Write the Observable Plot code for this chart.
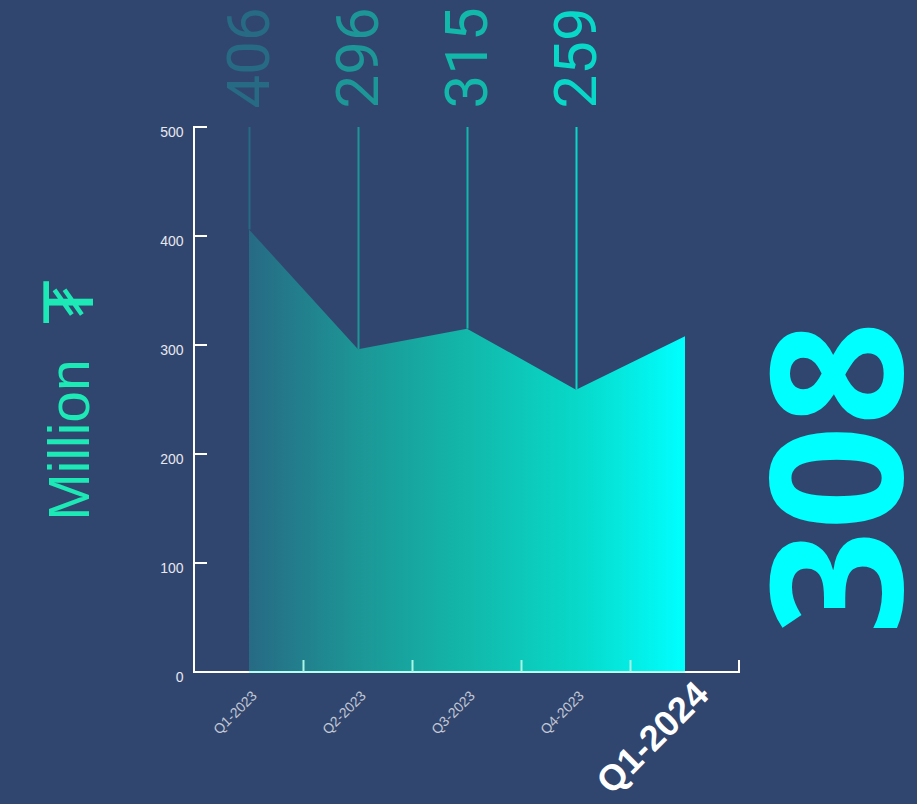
<!DOCTYPE html>
<html><head><meta charset="utf-8">
<script src="https://cdn.jsdelivr.net/npm/d3@7"></script>
<script src="https://cdn.jsdelivr.net/npm/@observablehq/plot@0.6"></script>
<style>
html,body{margin:0;padding:0;background:#31466f;overflow:hidden}
svg{display:block}
</style></head><body><div id="chart"></div>
<script>
const quarters = ["Q1-2023", "Q2-2023", "Q3-2023", "Q4-2023", "Q1-2024"];
const values = [406, 296, 315, 259, 308];
const yTicks = [0, 100, 200, 300, 400, 500];
const unitWord = ["Million"];
const currencySymbol = ["₮"];
const gradientStops = ["#276a84", "#1c9696", "#12b8aa", "#08d8c8", "#00ffff"];

const colorAt = d3.piecewise(d3.interpolateRgb, gradientStops);
const data = quarters.map((q, i) => ({quarter: q, value: values[i], t: i / (quarters.length - 1)}));
const history = data.slice(0, -1);
const latest = data[data.length - 1];
const yMax = yTicks[yTicks.length - 1];

function gradientDefs() {
  const defs = d3.create("svg:defs");
  const g = defs.append("linearGradient").attr("id", "areaGrad")
    .attr("x1", 0).attr("x2", 1).attr("y1", 0).attr("y2", 0);
  gradientStops.forEach((c, i) => g.append("stop")
    .attr("offset", i / (gradientStops.length - 1)).attr("stop-color", c));
  return defs.node();
}

function axesFrame(index, scales, values, dims) {
  const {x, y} = scales;
  const g = d3.create("svg:g").attr("stroke-width", 2).attr("fill", "none");
  const left = dims.marginLeft, right = dims.width - dims.marginRight;
  const y0 = y(0);
  g.append("line").attr("x1", left).attr("x2", left).attr("y1", y0 + 1).attr("y2", y(yMax) - 1).attr("stroke", "white");
  yTicks.forEach(v => g.append("line").attr("x1", left).attr("x2", left + 13)
    .attr("y1", y(v)).attr("y2", y(v)).attr("stroke", "white"));
  const xa = x(quarters[0]), xb = x(quarters[quarters.length - 1]);
  g.append("line").attr("x1", left).attr("x2", xa).attr("y1", y0).attr("y2", y0).attr("stroke", "white");
  g.append("line").attr("x1", xa).attr("x2", xb).attr("y1", y0).attr("y2", y0).attr("stroke", "#b4fff0");
  g.append("line").attr("x1", xb).attr("x2", right + 1).attr("y1", y0).attr("y2", y0).attr("stroke", "white");
  for (let i = 0; i < quarters.length - 1; i++) {
    const m = (x(quarters[i]) + x(quarters[i + 1])) / 2;
    g.append("line").attr("x1", m).attr("x2", m).attr("y1", y0).attr("y2", y0 - 12).attr("stroke", "#a8f5e6");
  }
  g.append("line").attr("x1", right).attr("x2", right).attr("y1", y0 + 1).attr("y2", y0 - 12).attr("stroke", "white");
  return g.node();
}

const chart = Plot.plot({
  width: 917,
  height: 804,
  marginLeft: 194,
  marginRight: 178,
  marginTop: 127,
  marginBottom: 132,
  style: {background: "#31466f", fontFamily: "'Liberation Sans', Arial, sans-serif", overflow: "visible"},
  x: {type: "point", domain: quarters, padding: 0.5, axis: null},
  y: {domain: [0, yMax], axis: null},
  color: {type: "identity"},
  marks: [
    gradientDefs,
    Plot.areaY(data, {x: "quarter", y: "value", fill: "url(#areaGrad)"}),
    axesFrame,
    Plot.ruleX(history, {x: "quarter", y1: "value", y2: () => yMax, stroke: d => colorAt(d.t), strokeWidth: 2}),
    Plot.text(history, {
      x: "quarter", text: d => String(d.value), frameAnchor: "top", dy: -19,
      rotate: -90, textAnchor: "start", lineAnchor: "middle",
      fontSize: 60, fontWeight: 400, fontFamily: "Roboto, sans-serif",
      fill: d => colorAt(d.t)
    }),
    Plot.text(yTicks, {
      y: d => d, text: d => String(d), frameAnchor: "left", textAnchor: "end",
      dx: -11, dy: 5, fontSize: 14, fill: "#e6e8ef"
    }),
    Plot.text(history, {
      x: "quarter", text: "quarter", frameAnchor: "bottom", rotate: -45,
      textAnchor: "end", lineAnchor: "middle", dx: 5, dy: 21,
      fontSize: 14, fill: "#c3c8d4"
    }),
    Plot.text([latest], {
      x: "quarter", text: "quarter", frameAnchor: "bottom", rotate: -45,
      textAnchor: "end", lineAnchor: "middle", dx: 17, dy: 16,
      fontSize: 36, fontWeight: 700, fill: "white"
    }),
    Plot.text(unitWord, {
      text: d => d, frameAnchor: "left", dx: -124, dy: 40, rotate: -90,
      textAnchor: "middle", lineAnchor: "middle",
      fontSize: 57, fill: "#1de9b6"
    }),
    Plot.text(currencySymbol, {
      text: d => d, frameAnchor: "left", dx: -123, dy: -98, rotate: -90,
      textAnchor: "middle", lineAnchor: "middle",
      fontSize: 68, fill: "#1de9b6", fontFamily: "'DejaVu Sans', sans-serif"
    }),
    Plot.text([latest], {
      text: d => String(d.value), frameAnchor: "right", dx: 104, dy: 78,
      rotate: -90, textAnchor: "middle", lineAnchor: "middle",
      fontSize: 183, fontWeight: 700, fontFamily: "'Open Sans', sans-serif",
      fill: "#00ffff"
    })
  ]
});
document.getElementById("chart").appendChild(chart);
</script>
</body></html>
